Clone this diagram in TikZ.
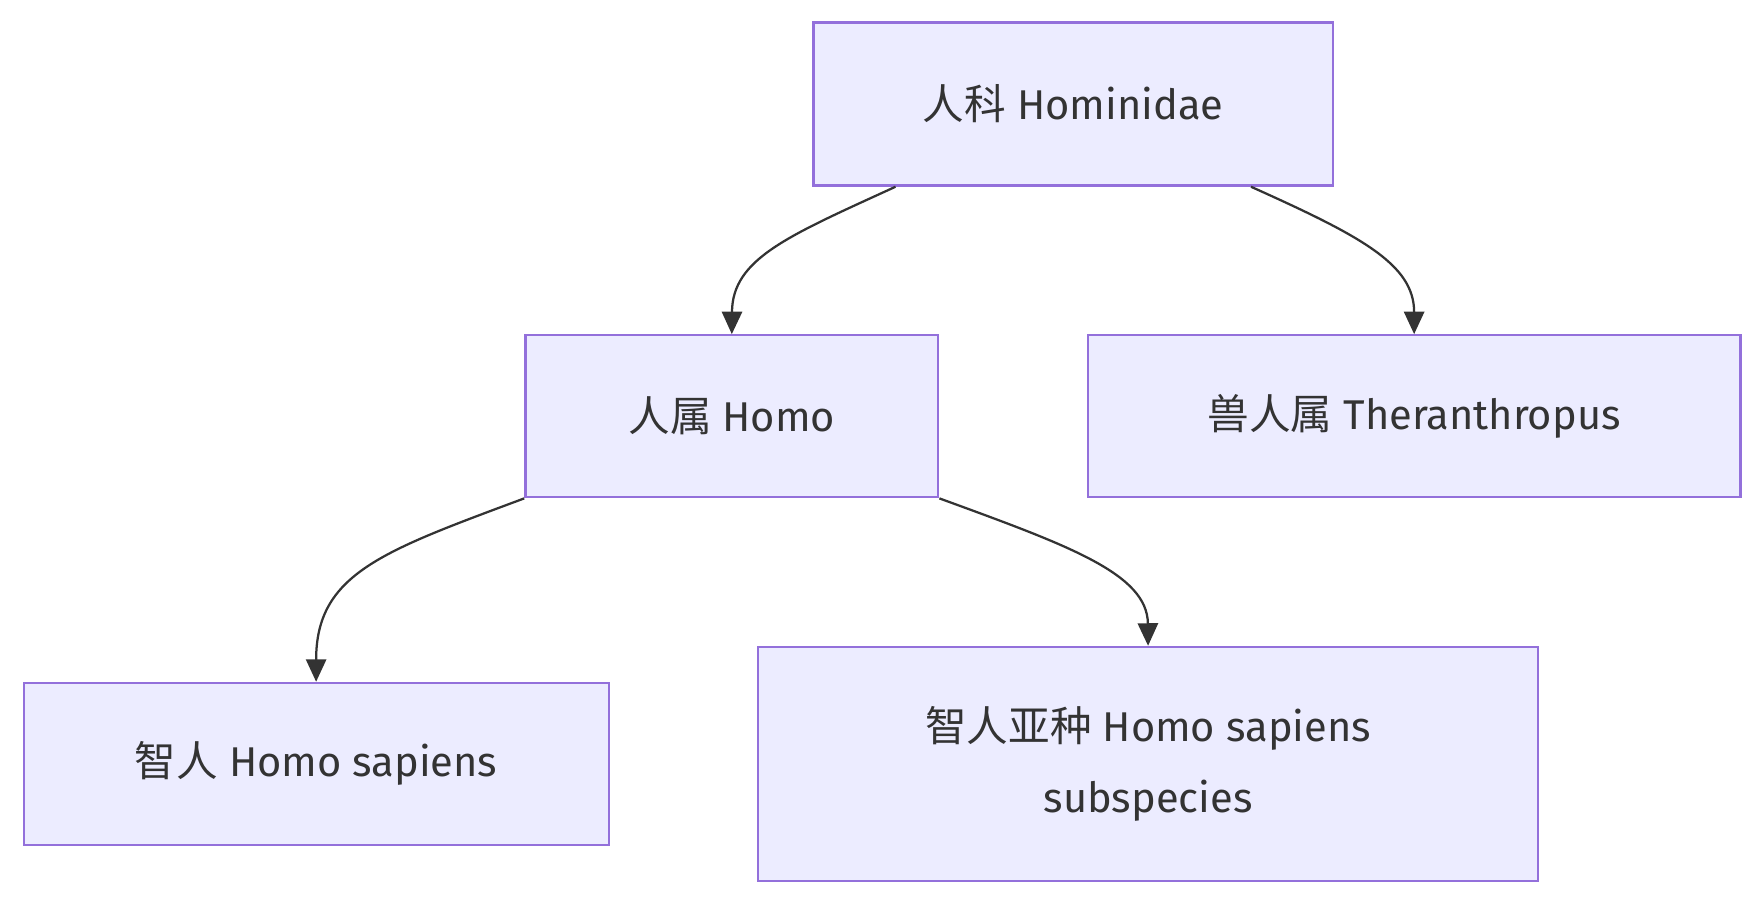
\documentclass[tikz,border=0pt]{standalone}
\usepackage{fontspec}
\setmainfont{Fira Sans}
\newfontfamily\cjk{Noto Sans CJK SC}
\usetikzlibrary{arrows.meta}
\definecolor{nfill}{HTML}{ECECFF}
\definecolor{nline}{HTML}{9370DB}
\definecolor{eline}{HTML}{333333}
\tikzset{
  box/.style={draw=nline,fill=nfill,line width=2pt,inner sep=0pt,text=eline,
    font=\fontsize{37}{63}\selectfont,align=center},
  link/.style={draw=eline,line width=2pt,-{Triangle[length=20pt,width=18pt]}}
}
\begin{document}
\begin{tikzpicture}[x=1pt,y=-1pt]
\useasboundingbox (0,0) rectangle (1568,805);
\node[box,minimum width=462pt,minimum height=145pt] (A) at (954,92.5) {{\cjk 人科} Hominidae};
\node[box,minimum width=367pt,minimum height=144pt] (B) at (650.5,370) {{\cjk 人属} Homo};
\node[box,minimum width=580pt,minimum height=144pt] (C) at (1257,370) {{\cjk 兽人属} Theranthropus};
\node[box,minimum width=520pt,minimum height=144pt] (D) at (281,679) {{\cjk 智人} Homo sapiens};
\node[box,minimum width=693pt,minimum height=208pt] (E) at (1020.5,679) {{\cjk 智人亚种} Homo sapiens\\subspecies};
\draw[link] (A.south west) ++(74,0) coordinate (a1) .. controls (700,210) and (651,230) .. (B.north);
\draw[link] (A.south east) ++(-74,0) coordinate (a2) .. controls (1210,210) and (1257,235) .. (C.north);
\draw[link] (B.south west) .. controls (340,490) and (281,510) .. (D.north);
\draw[link] (B.south east) .. controls (950,485) and (1020,510) .. (E.north);
\end{tikzpicture}
\end{document}
